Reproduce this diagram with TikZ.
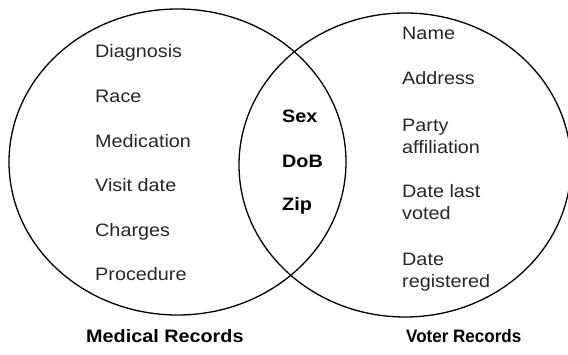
\documentclass[tikz,border=0pt]{standalone}
\usepackage{fontspec}
\setmainfont{Liberation Sans}[FakeStretch=1.1]
\begin{document}
\begin{tikzpicture}[x=1pt,y=-1pt,
  set/.style={draw=black,line width=1.3pt},
  item/.style={anchor=base west,inner sep=0pt,font=\fontsize{18}{22}\selectfont,text=black!85},
  shared/.style={item,font=\fontsize{18}{22}\selectfont\bfseries,text=black},
  title/.style={anchor=base west,inner sep=0pt,font=\fontsize{18}{22}\selectfont\bfseries}]
\newcommand{\twolines}[2]{\begin{tabular}[t]{@{}l@{}}#1\\#2\end{tabular}}
\useasboundingbox (0,0) rectangle (568,355);
% the two record sets
\draw[set] (177.5,162) ellipse [x radius=168.5pt, y radius=153pt];
\draw[set] (405,165) ellipse [x radius=166pt, y radius=152pt];
% medical-only fields
\node[item] (diag) at (95,58)  {Diagnosis};
\node[item] (race) at (95,103) {Race};
\node[item] (med)  at (95,148) {Medication};
\node[item] (visit) at (95,192) {Visit date};
\node[item] (chg)  at (95,237) {Charges};
\node[item] (proc) at (95,281) {Procedure};
% fields found in both
\node[shared] (sex) at (282,123) {Sex};
\node[shared] (dob) at (282,168) {DoB};
\node[shared] (zip) at (282,211) {Zip};
% voter-only fields
\node[item] (name) at (402,40)  {Name};
\node[item] (addr) at (402,85)  {Address};
\node[item] (party) at (402,132) {\twolines{Party}{affiliation}};
\node[item] (last) at (402,198) {\twolines{Date last}{voted}};
\node[item] (reg)  at (402,266) {\twolines{Date}{registered}};
% set titles
\node[title] (medt) at (86,343) {Medical Records};
\node[title] (votet) at (406,343) {\scalebox{0.86}[1]{Voter Records}};
\end{tikzpicture}
\end{document}
